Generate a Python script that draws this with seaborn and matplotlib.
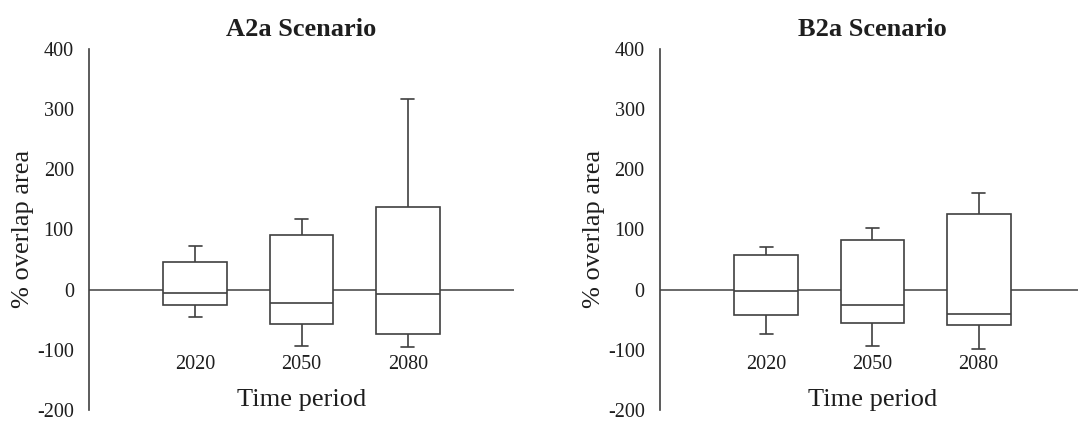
import numpy as np
import pandas as pd
import matplotlib
matplotlib.use("Agg")
import matplotlib.pyplot as plt
import seaborn as sns

# Time periods (categories)
periods = ["2020", "2050", "2080"]

# Five-number summaries: [lower whisker, Q1, median, Q3, upper whisker]
a2a_2020 = [-46, -26, -6, 46, 72]
a2a_2050 = [-94, -57, -22, 91, 117]
a2a_2080 = [-96, -73, -8, 137, 317]

b2a_2020 = [-74, -42, -3, 58, 70]
b2a_2050 = [-93, -56, -25, 83, 103]
b2a_2080 = [-99, -58, -40, 125, 160]

yticks = [-200, -100, 0, 100, 200, 300, 400]

LINE = "#404040"
TEXT = "#1e1e1e"


def make_frame(groups):
    rows = []
    for period, vals in zip(periods, groups):
        for v in vals:
            rows.append({"period": period, "value": v})
    return pd.DataFrame(rows)


def draw_panel(ax, df, title):
    ax.axhline(0, color=LINE, lw=1.1, zorder=0)
    sns.boxplot(
        data=df, x="period", y="value", order=periods, ax=ax,
        color="white", linecolor=LINE, linewidth=1.2, width=0.6,
        whis=(0, 100), showfliers=False, capwidths=0.12,
    )
    ax.set_xlim(-1, 3)
    ax.set_ylim(-200, 400)
    ax.set_yticks(yticks)
    ax.set_yticklabels([str(t) for t in yticks])
    ax.set_xticks([])
    ax.set_xlabel("")
    ax.set_ylabel("% overlap area", fontsize=19, color=TEXT, labelpad=2)
    for i, p in enumerate(periods):
        ax.text(i, -125, p, ha="center", va="center", fontsize=14.5, color=TEXT)
    ax.text(1, -184, "Time period", ha="center", va="center", fontsize=19, color=TEXT)
    ax.set_title(title, fontsize=19, fontweight="bold", color=TEXT, pad=9)
    for s in ["top", "right", "bottom"]:
        ax.spines[s].set_visible(False)
    ax.spines["left"].set_color(LINE)
    ax.spines["left"].set_linewidth(1.2)
    ax.tick_params(axis="y", direction="out", length=4, width=1.1, color=LINE,
                   labelsize=14.5, labelcolor=TEXT, pad=7)


sns.set_style("white")
plt.rcParams["font.family"] = ["Liberation Serif", "DejaVu Serif"]
plt.rcParams["axes.unicode_minus"] = False

fig = plt.figure(figsize=(10.78, 4.23), dpi=100)
ax1 = fig.add_axes([0.0826, 0.0307, 0.3942, 0.854])
ax2 = fig.add_axes([0.6122, 0.0307, 0.3942, 0.854])

draw_panel(ax1, make_frame([a2a_2020, a2a_2050, a2a_2080]), "A2a Scenario")
draw_panel(ax2, make_frame([b2a_2020, b2a_2050, b2a_2080]), "B2a Scenario")

fig.savefig("out.png", dpi=100)
